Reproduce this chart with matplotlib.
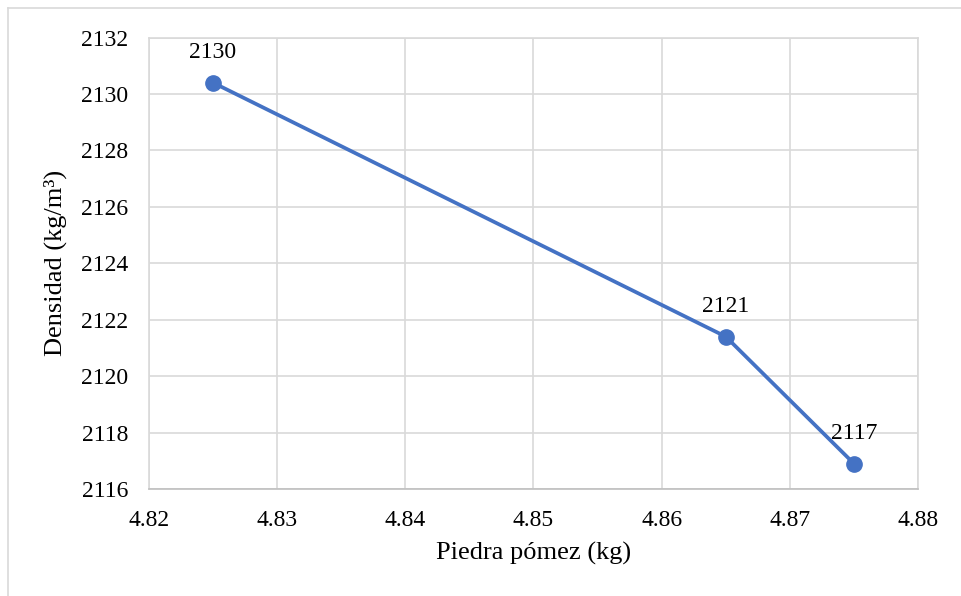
import matplotlib
matplotlib.use("Agg")
import matplotlib.pyplot as plt
from matplotlib.lines import Line2D

plt.rcParams['font.family'] = ['Liberation Serif', 'DejaVu Serif']

# data
piedra_pomez = [4.825, 4.865, 4.875]
densidad = [2130.4, 2121.4, 2116.9]
etiquetas = ["2130", "2121", "2117"]

x_ticks = [4.82, 4.83, 4.84, 4.85, 4.86, 4.87, 4.88]
y_ticks = [2116, 2118, 2120, 2122, 2124, 2126, 2128, 2130, 2132]

fig = plt.figure(figsize=(9.61, 5.96), dpi=100)
ax = fig.add_axes([0.155, 0.1795, 0.8003, 0.7575])

ax.plot(piedra_pomez, densidad, color='#4472C4', linewidth=2.7,
        marker='o', markersize=11, zorder=3)
for x, y, t in zip(piedra_pomez, densidad, etiquetas):
    ax.annotate(t, (x, y), xytext=(0, 22), textcoords='offset points',
                ha='center', va='center', fontsize=17, color='black')

ax.set_xlim(4.82, 4.88)
ax.set_ylim(2116, 2132)
ax.set_xticks(x_ticks)
ax.set_yticks(y_ticks)
ax.set_xticklabels([f"{v:.2f}" for v in x_ticks])
ax.set_yticklabels([str(v) for v in y_ticks])
ax.tick_params(length=0, labelsize=17, colors='black')
ax.tick_params(axis='x', pad=15)
ax.tick_params(axis='y', pad=15)
ax.grid(True, color='#d9d9d9', linewidth=1.2)
ax.set_axisbelow(True)
for s in ['top', 'right', 'left']:
    ax.spines[s].set_color('#d9d9d9')
    ax.spines[s].set_linewidth(1.2)
ax.spines['bottom'].set_color('#bfbfbf')
ax.spines['bottom'].set_linewidth(1.2)

ax.set_xlabel('Piedra pómez (kg)', fontsize=19, labelpad=8)
ax.set_ylabel('Densidad (kg/m³)', fontsize=19, labelpad=10)

# outer chart border (only top and left visible)
fig.add_artist(Line2D([8/961, 1], [1 - 8/596, 1 - 8/596], color='#d9d9d9', linewidth=1.2))
fig.add_artist(Line2D([8/961, 8/961], [0, 1 - 8/596], color='#d9d9d9', linewidth=1.2))

fig.savefig('out.png', dpi=100)
